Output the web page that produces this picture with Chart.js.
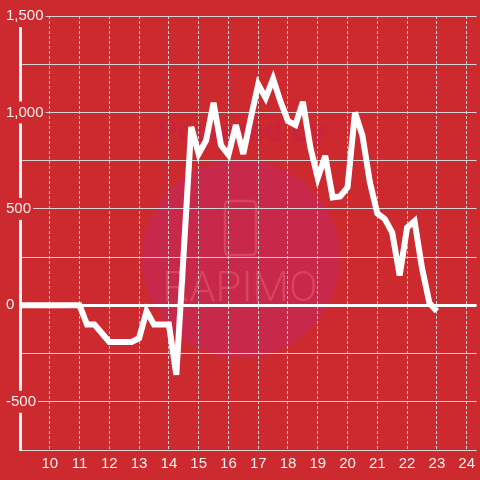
<!DOCTYPE html>
<html>
<head>
<meta charset="utf-8">
<script src="https://cdn.jsdelivr.net/npm/chart.js@4"></script>
<style>
  html, body { margin: 0; padding: 0; background: #cc2a2f; }
  #wrap { width: 480px; height: 480px; }
</style>
</head>
<body>
<div id="wrap"><canvas id="lineChart" width="480" height="480"></canvas></div>
<script>
// data (15 minute steps)
const times = ['9:00','9:15','9:30','9:45','10:00','10:15','10:30','10:45',
  '11:00','11:15','11:30','11:45','12:00','12:15','12:30','12:45',
  '13:00','13:15','13:30','13:45','14:00','14:15','14:30','14:45',
  '15:00','15:15','15:30','15:45','16:00','16:15','16:30','16:45',
  '17:00','17:15','17:30','17:45','18:00','18:15','18:30','18:45',
  '19:00','19:15','19:30','19:45','20:00','20:15','20:30','20:45',
  '21:00','21:15','21:30','21:45','22:00','22:15','22:30','22:45','23:00'];
const values = [0, 0, 0, 0, 0, 0, 0, 0,
  0, -100, -100, -145, -190, -190, -190, -190,
  -170, -30, -100, -100, -100, -360, 280, 925,
  785, 855, 1050, 830, 780, 935, 785, 970,
  1145, 1075, 1175, 1055, 955, 935, 1055, 820,
  660, 775, 560, 565, 612, 1000, 880, 638,
  476, 448, 377, 155, 403, 437, 194, 12, -31];
const hourTicks = [10, 11, 12, 13, 14, 15, 16, 17, 18, 19, 20, 21, 22, 23, 24];
const yTicks = [-750, -500, -250, 0, 250, 500, 750, 1000, 1250, 1500];

const RED = '#cc2a2f';
const GRID = '#d4d4d4';

function toHour(t) {
  const p = t.split(':');
  return Number(p[0]) + Number(p[1]) / 60;
}
const points = times.map((t, i) => ({ x: toHour(t), y: values[i] }));

// background + watermark
const bgPlugin = {
  id: 'bg',
  beforeDraw(chart) {
    const c = chart.ctx;
    c.save();
    c.fillStyle = RED;
    c.fillRect(0, 0, chart.width, chart.height);
    c.fillStyle = '#c8284a';
    c.beginPath();
    c.arc(241, 259, 99, 0, Math.PI * 2);
    c.fill();
    c.fillStyle = 'rgba(200,30,75,0.55)';
    c.font = 'bold 30px "Liberation Sans"';
    c.textAlign = 'center';
    c.textBaseline = 'middle';
    c.fillText('Powered by', 242, 133);
    c.strokeStyle = 'rgba(240,120,130,0.35)';
    c.lineWidth = 2.5;
    c.beginPath();
    c.roundRect(225, 201, 31, 54, 4);
    c.stroke();
    c.fillStyle = 'rgba(240,120,130,0.35)';
    c.font = '300 42px Roboto';
    c.fillText('RAPIMO', 240, 290);
    c.restore();
  },
  // sharp spikes get a flat end like in the original
  beforeDatasetsDraw(chart) { chart.ctx.miterLimit = 4; },
  afterDatasetsDraw(chart) { chart.ctx.miterLimit = 10; }
};

new Chart(document.getElementById('lineChart').getContext('2d'), {
  type: 'line',
  data: {
    datasets: [{
      data: points,
      borderColor: '#ffffff',
      borderWidth: 6,
      pointRadius: 0,
      tension: 0,
      fill: false
    }]
  },
  options: {
    responsive: false,
    animation: false,
    layout: { padding: { left: 5, top: 16, right: 0, bottom: 2 } },
    plugins: { legend: { display: false }, tooltip: { enabled: false } },
    scales: {
      x: {
        type: 'linear',
        min: 9,
        max: 24 + 1 / 3,
        afterBuildTicks: (scale) => { scale.ticks = hourTicks.map(v => ({ value: v })); },
        grid: { color: GRID, lineWidth: 1, drawTicks: false },
        border: { display: false, dash: [3, 2] },
        ticks: {
          color: '#f2f2f2',
          font: { family: '"Liberation Sans", Arial', size: 15 },
          padding: 5,
          maxRotation: 0,
          callback: (v) => String(v)
        }
      },
      y: {
        min: -750,
        max: 1500,
        afterBuildTicks: (scale) => { scale.ticks = yTicks.map(v => ({ value: v })); },
        afterFit: (scale) => { scale.width = 15; },
        grid: {
          drawTicks: false,
          color: (ctx) => ctx.tick && ctx.tick.value === 0 ? '#ffffff' : GRID,
          lineWidth: (ctx) => ctx.tick && ctx.tick.value === 0 ? 3 : 1
        },
        border: { display: true, color: '#f4f4f4', width: 3 },
        ticks: {
          color: '#f2f2f2',
          font: { family: '"Liberation Sans", Arial', size: 15 },
          mirror: true,
          padding: -14,
          showLabelBackdrop: true,
          backdropPadding: 2,
          backdropColor: (ctx) => ctx.tick && ctx.tick.value % 500 === 0 && ctx.tick.value !== -750 ? RED : 'rgba(0,0,0,0)',
          callback: (v) => (v % 500 === 0 && v !== -750) ? v.toLocaleString('en-US') : ''
        }
      }
    }
  },
  plugins: [bgPlugin]
});
</script>
</body>
</html>
